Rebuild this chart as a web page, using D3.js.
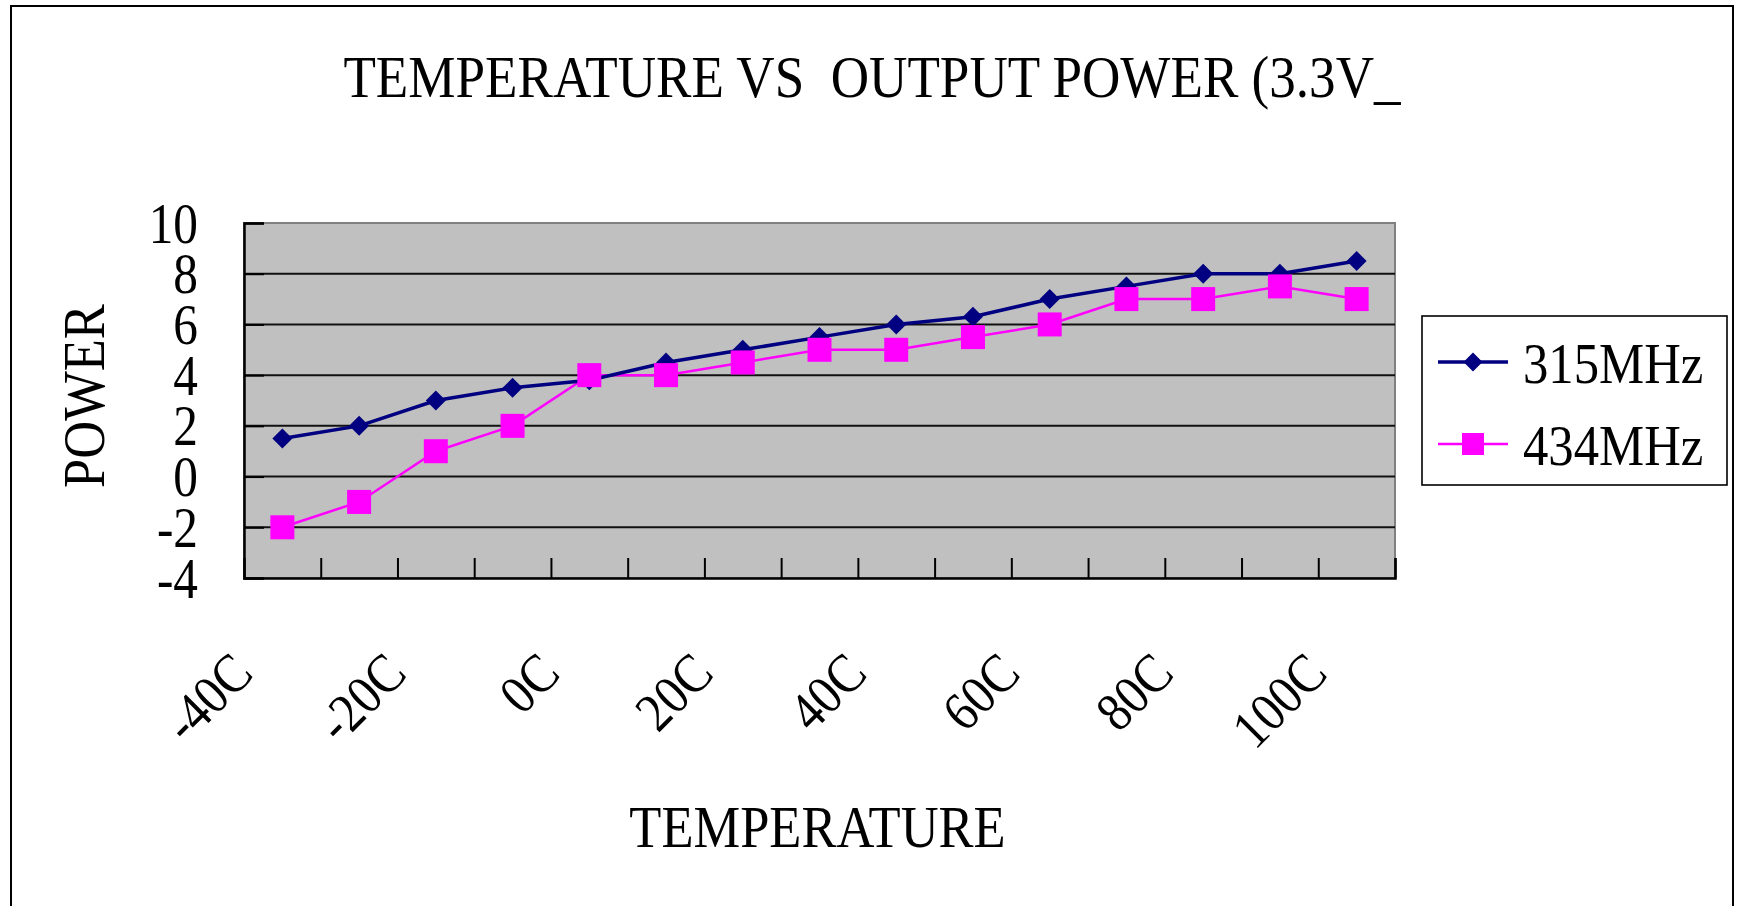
<!DOCTYPE html>
<html>
<head>
<meta charset="utf-8">
<script src="https://cdn.jsdelivr.net/npm/d3@7/dist/d3.min.js"></script>
<style>
  html, body { margin: 0; padding: 0; background: #fff; }
  svg text { font-family: "Liberation Serif", "DejaVu Serif", serif; fill: #000; }
</style>
</head>
<body>
<svg id="chart" width="1737" height="906"></svg>
<script>
// ---- data ----
const categories = ["-40C","-30C","-20C","-10C","0C","10C","20C","30C","40C","50C","60C","70C","80C","90C","100C"];
const series315 = [1.5, 2, 3, 3.5, 3.8, 4.5, 5, 5.5, 6, 6.3, 7, 7.5, 8, 8, 8.5];
const series434 = [-2, -1, 1, 2, 4, 4, 4.5, 5, 5, 5.5, 6, 7, 7, 7.5, 7];
const seriesNames = ["315MHz", "434MHz"];
const yTicks = [-4, -2, 0, 2, 4, 6, 8, 10];
const gridValues = [-2, 0, 2, 4, 6, 8];
const titleText = "TEMPERATURE VS  OUTPUT POWER (3.3V_";
const xTitle = "TEMPERATURE";
const yTitle = "POWER";

// ---- layout ----
const P = { left: 244, right: 1395, top: 223, bottom: 578 };
const svg = d3.select("#chart");

function condense(sel, f) {
  sel.each(function () {
    const len = this.getComputedTextLength();
    d3.select(this).attr("textLength", len * f).attr("lengthAdjust", "spacingAndGlyphs");
  });
}

// outer border
svg.append("rect").attr("x", 11).attr("y", 6).attr("width", 1722).attr("height", 910)
  .attr("fill", "#fff").attr("stroke", "#000").attr("stroke-width", 2);

// scales
const x = d3.scaleBand().domain(categories).range([P.left, P.right]).padding(0);
const xb = d3.scaleLinear().domain([0, categories.length]).range([P.left, P.right]);
const y = d3.scaleLinear().domain([-4, 10]).range([P.bottom, P.top]);
const cx = c => x(c) + x.bandwidth() / 2;

// plot background
svg.append("rect").attr("x", P.left).attr("y", P.top)
  .attr("width", P.right - P.left).attr("height", P.bottom - P.top)
  .attr("fill", "#c0c0c0").attr("stroke", "#808080").attr("stroke-width", 2);

// gridlines
svg.append("g").selectAll("line").data(gridValues).join("line")
  .attr("x1", P.left).attr("x2", P.right)
  .attr("y1", d => y(d)).attr("y2", d => y(d))
  .attr("stroke", "#111").attr("stroke-width", 2);

// y axis
const yAxis = svg.append("g").attr("transform", `translate(${P.left},0)`)
  .call(d3.axisLeft(y).tickValues(yTicks).tickSize(-20).tickPadding(46).tickFormat(d => String(d)));
yAxis.select(".domain").attr("stroke", "#000").attr("stroke-width", 2.5);
yAxis.selectAll(".tick line").attr("stroke", "#000").attr("stroke-width", 2);
yAxis.selectAll(".tick text").attr("font-size", 56).attr("font-family", "Liberation Serif")
  .attr("dy", "0.34em").attr("fill", "#000");
condense(yAxis.selectAll(".tick text"), 0.88);

// x axis (ticks at category boundaries, inward)
const xAxis = svg.append("g").attr("transform", `translate(0,${P.bottom})`)
  .call(d3.axisBottom(xb).tickValues(d3.range(1, categories.length + 1)).tickSize(-20).tickFormat(""));
xAxis.select(".domain").attr("stroke", "#000").attr("stroke-width", 2.5);
xAxis.selectAll(".tick line").attr("stroke", "#000").attr("stroke-width", 2);

// x category labels (every other)
const xl = svg.append("g").selectAll("text")
  .data(categories.filter((d, i) => i % 2 === 0)).join("text")
  .attr("text-anchor", "end").attr("font-size", 55)
  .attr("transform", d => `translate(${cx(d) - 27},676) rotate(-45)`)
  .text(d => d);
condense(xl, 0.89);

// lines
const line = d3.line().x((d, i) => cx(categories[i])).y(d => y(d));
svg.append("path").datum(series434).attr("d", line).attr("fill", "none")
  .attr("stroke", "#ff00ff").attr("stroke-width", 2.5);
svg.append("path").datum(series315).attr("d", line).attr("fill", "none")
  .attr("stroke", "#000080").attr("stroke-width", 3.5);

// markers
const diamond = s => `M0,${-s}L${s},0L0,${s}L${-s},0Z`;
svg.append("g").selectAll("path").data(series315).join("path")
  .attr("d", diamond(10))
  .attr("transform", (d, i) => `translate(${cx(categories[i])},${y(d)})`)
  .attr("fill", "#000080");
svg.append("g").selectAll("rect").data(series434).join("rect")
  .attr("x", (d, i) => cx(categories[i]) - 12).attr("y", d => y(d) - 12)
  .attr("width", 24).attr("height", 24).attr("fill", "#ff00ff");

// title
const t = svg.append("text").attr("x", 872).attr("y", 97).attr("text-anchor", "middle")
  .attr("font-size", 60).attr("xml:space", "preserve").style("white-space", "pre")
  .text(titleText);
condense(t, 0.885);

// axis titles
const xt = svg.append("text").attr("x", (P.left + P.right) / 2 - 2).attr("y", 847)
  .attr("text-anchor", "middle").attr("font-size", 59).text(xTitle);
condense(xt, 0.89);
const yt = svg.append("text").attr("transform", "translate(104,396) rotate(-90)")
  .attr("text-anchor", "middle").attr("font-size", 59).text(yTitle);
condense(yt, 0.89);

// legend
const lg = svg.append("g");
lg.append("rect").attr("x", 1422).attr("y", 316).attr("width", 305).attr("height", 169)
  .attr("fill", "#fff").attr("stroke", "#000").attr("stroke-width", 1.6);
const legendRows = [
  { name: seriesNames[0], color: "#000080", shape: "diamond", ly: 362, ty: 383 },
  { name: seriesNames[1], color: "#ff00ff", shape: "square", ly: 444, ty: 465 }
];
legendRows.forEach(r => {
  lg.append("line").attr("x1", 1438).attr("x2", 1508).attr("y1", r.ly).attr("y2", r.ly)
    .attr("stroke", r.color).attr("stroke-width", r.shape === "diamond" ? 3.5 : 2.5);
  if (r.shape === "diamond") {
    lg.append("path").attr("d", diamond(9.5)).attr("transform", `translate(1473,${r.ly})`).attr("fill", r.color);
  } else {
    lg.append("rect").attr("x", 1473 - 11).attr("y", r.ly - 11).attr("width", 22).attr("height", 22).attr("fill", r.color);
  }
  const tx = lg.append("text").attr("x", 1523).attr("y", r.ty).attr("font-size", 57).text(r.name);
  condense(tx, 0.89);
});
</script>
</body>
</html>
